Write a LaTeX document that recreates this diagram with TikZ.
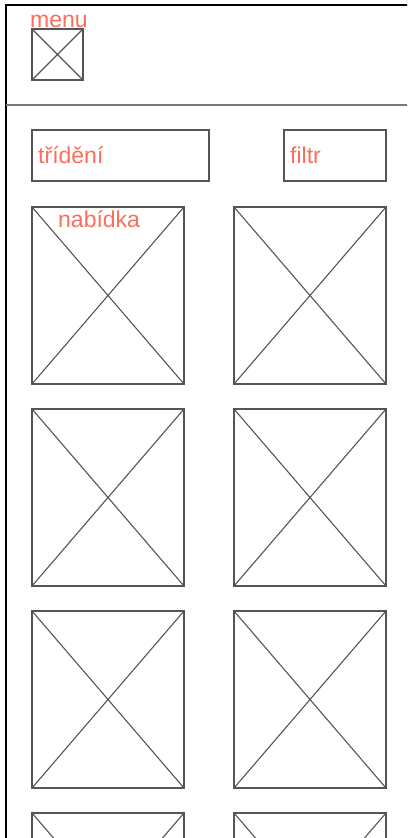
\documentclass[tikz,border=0pt]{standalone}
\usepackage{fontspec}
\setmainfont{Liberation Sans}
\usepackage{xcolor}
\usepackage{tikz}
\usetikzlibrary{positioning}

\definecolor{boxgray}{RGB}{85,85,85}
\definecolor{labelred}{RGB}{250,110,90}

\begin{document}
\begin{tikzpicture}[x=1pt, y=-1pt, node distance=25pt and 50pt]
    % Styles
    \tikzstyle{frame} = [draw=black, line width=2.5pt]
    \tikzstyle{divider} = [draw=boxgray!80, line width=1.2pt]
    \tikzstyle{field} = [rectangle, draw=boxgray, line width=1.1pt, minimum height=51pt, inner sep=0pt, outer sep=0pt]
    \tikzstyle{imgbox} = [rectangle, draw=boxgray, line width=1.1pt, inner sep=0pt, outer sep=0pt,
        path picture={\draw[boxgray, line width=1.1pt] (path picture bounding box.north west) -- (path picture bounding box.south east)
            (path picture bounding box.north east) -- (path picture bounding box.south west);}]
    \tikzstyle{tile} = [imgbox, minimum width=152pt, minimum height=177pt]
    \tikzstyle{caption} = [text=labelred, inner sep=0pt, anchor=base west, font=\fontsize{23}{27}\selectfont]

    \clip (0,0) rectangle (407,838);

    % --- HEADER ---
    \draw [frame] (6,840) -- (6,5) -- (410,5);
    \draw [divider] (6,105) -- (410,105);
    \node [imgbox, minimum width=51pt, minimum height=51pt, anchor=north west] (menu) at (32,29) {};
    \node [caption] (menulbl) at (30,27) {menu};

    % --- SORT AND FILTER ---
    \node [field, minimum width=177pt, anchor=north west] (sort) at (32,130) {};
    \node [field, minimum width=102pt, anchor=north west] (filter) at (284,130) {};
    \node [caption] (sortlbl) at (38,163) {třídění};
    \node [caption] (filterlbl) at (290,163) {filtr};

    % --- OFFER GRID ---
    \node [tile, anchor=north west] (item11) at (32,207) {};
    \node [tile, right=of item11] (item12) {};
    \foreach \row [remember=\row as \prev (initially 1)] in {2,3,4} {
        \node [tile, below=of item\prev1] (item\row1) {};
        \node [tile, right=of item\row1] (item\row2) {};
    }
    \node [caption] (offerlbl) at (58,227) {nabídka};

\end{tikzpicture}
\end{document}
